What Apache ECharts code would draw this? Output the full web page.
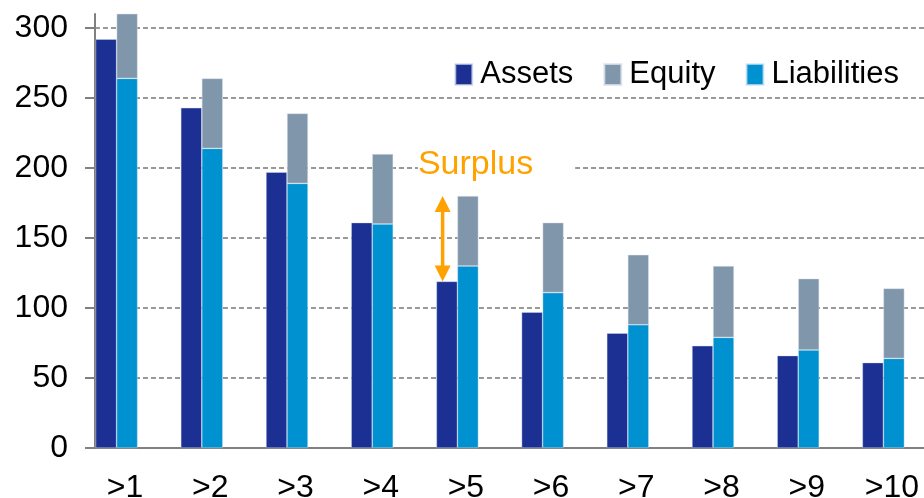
<!DOCTYPE html>
<html>
<head>
<meta charset="utf-8">
<script src="https://cdn.jsdelivr.net/npm/echarts@6/dist/echarts.min.js"></script>
<style>
  html, body { margin: 0; padding: 0; background: #fff; }
  #chart { width: 924px; height: 498px; }
</style>
</head>
<body>
<div id="chart"></div>
<script>
  // data
  var categories = ['>1', '>2', '>3', '>4', '>5', '>6', '>7', '>8', '>9', '>10']
  var assets = [292, 243, 197, 161, 119, 97, 82, 73, 66, 61]
  var liabilities = [264, 214, 189, 160, 130, 111, 88, 79, 70, 64]
  var equity = [50, 50, 50, 50, 50, 50, 50, 51, 51, 50]
  var yTicks = [0, 50, 100, 150, 200, 250, 300]
  var surplusIndex = 4 // the ">5" group carries the Surplus arrow

  var FONT = 'Liberation Sans, Arial, sans-serif'
  var ORANGE = '#FFA200'

  var dom = echarts.init(document.getElementById('chart'))

  var option = {
    animation: false,
    grid: {
      left: 95,
      right: -23,
      top: 14,
      bottom: 50,
      outerBoundsMode: 'none'
    },
    legend: {
      data: ['Assets', 'Equity', 'Liabilities'],
      right: 20,
      top: 54,
      icon: 'rect',
      itemWidth: 17,
      itemHeight: 21,
      itemGap: 30,
      selectedMode: false,
      textStyle: {
        fontFamily: FONT,
        fontSize: 31,
        color: '#000',
        padding: [0, 0, 0, 3]
      }
    },
    xAxis: {
      type: 'category',
      data: categories,
      axisLine: { lineStyle: { color: '#808080', width: 2 } },
      axisTick: { show: false },
      axisLabel: {
        fontFamily: FONT,
        fontSize: 32,
        color: '#000',
        margin: 24,
        padding: [0, 25, 0, 0]
      }
    },
    yAxis: {
      type: 'value',
      min: 0,
      max: 310,
      interval: 50,
      axisLine: { show: true, lineStyle: { color: '#808080', width: 2 } },
      axisTick: {
        show: true,
        length: 10,
        customValues: yTicks,
        lineStyle: { color: '#808080', width: 2 }
      },
      axisLabel: {
        fontFamily: FONT,
        fontSize: 32,
        color: '#000',
        margin: 27,
        customValues: yTicks
      },
      splitLine: {
        show: true,
        showMinLine: false,
        lineStyle: { color: '#787878', width: 1.5, type: [5, 3] }
      }
    },
    series: [{
        name: 'Assets',
        type: 'bar',
        barWidth: 21,
        barGap: 0,
        barCategoryGap: 1,
        itemStyle: { color: '#1B3092', borderColor: 'rgba(210,220,240,0.7)', borderWidth: 0.6 },
        data: assets
      },
      {
        name: 'Liabilities',
        type: 'bar',
        stack: 'le',
        barWidth: 21,
        barGap: 0,
        itemStyle: { color: '#0091D0', borderColor: 'rgba(210,230,245,0.7)', borderWidth: 0.6 },
        data: liabilities
      },
      {
        name: 'Equity',
        type: 'bar',
        stack: 'le',
        barWidth: 21,
        barGap: 0,
        itemStyle: { color: '#8096AA', borderColor: 'rgba(220,228,238,0.8)', borderWidth: 0.6 },
        data: equity
      },
      {
        // empty slot so the visible pair sits at the left of each band
        name: 'spacer',
        type: 'bar',
        barWidth: 42,
        barGap: 0,
        silent: true,
        data: categories.map(function () { return '-' })
      },
      {
        name: 'Surplus',
        type: 'custom',
        clip: false,
        z: 10,
        silent: true,
        encode: { x: 0, y: [1, 2] },
        data: [[surplusIndex, assets[surplusIndex], liabilities[surplusIndex] + equity[surplusIndex]]],
        renderItem: function (params, api) {
          var band = api.size([1, 0])[0]
          var center = api.coord([api.value(0), 0])[0]
          var x = center - band * 0.42
          var yLow = api.coord([api.value(0), api.value(1)])[1]
          var yHigh = api.coord([api.value(0), api.value(2)])[1]
          var head = 16, half = 8
          return {
            type: 'group',
            children: [{
                type: 'line',
                shape: { x1: x, y1: yHigh + head - 2, x2: x, y2: yLow - head + 2 },
                style: { stroke: ORANGE, lineWidth: 3.5 }
              },
              {
                type: 'polygon',
                shape: { points: [[x, yHigh], [x - half, yHigh + head], [x + half, yHigh + head]] },
                style: { fill: ORANGE }
              },
              {
                type: 'polygon',
                shape: { points: [[x, yLow], [x - half, yLow - head], [x + half, yLow - head]] },
                style: { fill: ORANGE }
              },
              {
                type: 'text',
                x: center - band * 0.71,
                y: yHigh - 31,
                style: {
                  text: 'Surplus',
                  fill: ORANGE,
                  font: '34px ' + FONT,
                  align: 'left',
                  verticalAlign: 'middle',
                  backgroundColor: '#fff',
                  padding: [2, 42, 2, 0]
                }
              }
            ]
          }
        }
      }
    ]
  }

  dom.setOption(option)
  window.addEventListener('resize', dom.resize)
</script>
</body>
</html>
